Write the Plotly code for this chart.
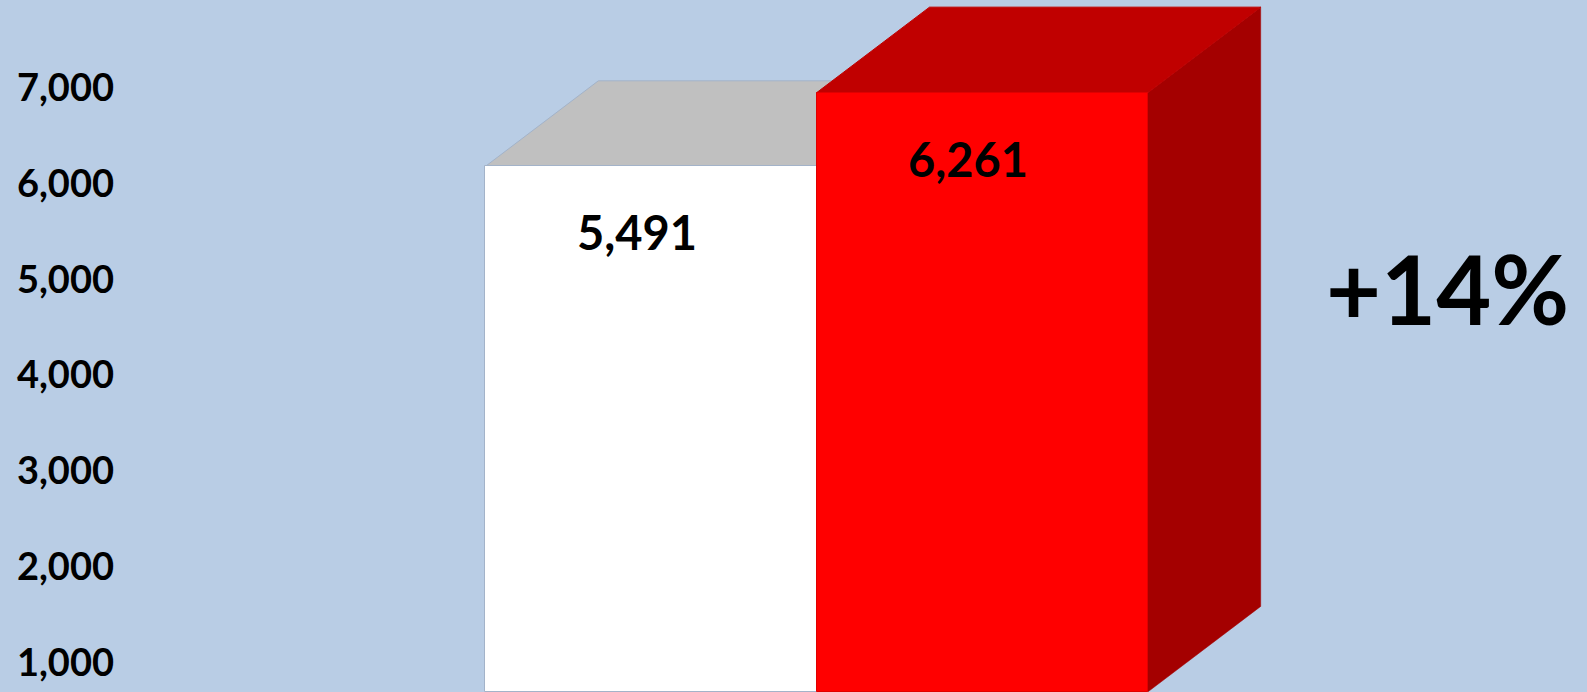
import plotly.graph_objects as go

# ---- data ----
categories = ["Previous", "Current"]
values = [5491, 6261]
front_colors = ["#FFFFFF", "#FF0000"]
top_colors = ["#C0C0C0", "#C00000"]
side_colors = ["#A6A6A6", "#A40000"]
edge_colors = ["#A3B3C9", "#E00000"]
tick_values = [1000, 2000, 3000, 4000, 5000, 6000, 7000]
tick_labels = ["1,000", "2,000", "3,000", "4,000", "5,000", "6,000", "7,000"]

# ---- geometry / style ----
W, H = 1587, 692
ML = 115
bar_axis_max = 7230          # value at the top edge of the plot (front plane)
x_range = [-0.5 + (ML - 485.3) / 331.2, -0.5 + (W - 485.3) / 331.2]
DEPTH_PX_X, DEPTH_PX_Y = 113, 85.6

px_per_x = (W - ML) / (x_range[1] - x_range[0])
px_per_y = H / bar_axis_max
ddx = DEPTH_PX_X / px_per_x
ddy = DEPTH_PX_Y / px_per_y

xs = list(range(len(values)))
BG = "#B9CDE5"
LABEL_FONT = "Lato, 'Open Sans', sans-serif"

fig = go.Figure()
fig.add_trace(go.Bar(
    x=xs, y=values, width=1.0,
    marker=dict(color=front_colors, line=dict(color=edge_colors, width=1)),
    hoverinfo="skip", showlegend=False,
))

shapes = []
for i, v in enumerate(values):
    L, R = xs[i] - 0.5, xs[i] + 0.5
    side = f"M {R},0 L {R},{v} L {R+ddx},{v+ddy} L {R+ddx},{ddy} Z"
    top = f"M {L},{v} L {L+ddx},{v+ddy} L {R+ddx},{v+ddy} L {R},{v} Z"
    shapes.append(dict(type="path", path=side, xref="x", yref="y", layer="below",
                       fillcolor=side_colors[i], line=dict(color=side_colors[i], width=0.5)))
    shapes.append(dict(type="path", path=top, xref="x", yref="y", layer="below",
                       fillcolor=top_colors[i],
                       line=dict(color=edge_colors[i] if i == 0 else top_colors[i], width=1)))

annotations = []
for i, v in enumerate(values):
    annotations.append(dict(
        x=xs[i], y=v, xref="x", yref="y", text=f"{v:,}", showarrow=False,
        yshift=-66, xshift=-14, xanchor="center", yanchor="middle",
        font=dict(family=LABEL_FONT, size=47, color="#000000", weight="bold"),
    ))
change = round((values[1] / values[0] - 1) * 100)
annotations.append(dict(
    x=1437 / W, y=1 - 288 / H, xref="paper", yref="paper",
    text=f"{'+' if change >= 0 else ''}{change}%", showarrow=False,
    xanchor="center", yanchor="middle",
    font=dict(family=LABEL_FONT, size=95, color="#000000", weight="bold"),
))

fig.update_layout(
    width=W, height=H,
    margin=dict(l=ML, r=0, t=0, b=0, pad=0),
    paper_bgcolor=BG, plot_bgcolor=BG,
    xaxis=dict(range=x_range, visible=False, showgrid=False, zeroline=False, fixedrange=True),
    yaxis=dict(range=[0, bar_axis_max], tickmode="array", tickvals=tick_values, ticktext=tick_labels,
               showgrid=False, zeroline=False, showline=False, ticks="",
               ticklabelshift=66,
               tickfont=dict(family=LABEL_FONT, size=38, color="#000000", weight="bold"),
               automargin=False),
    shapes=shapes, annotations=annotations, bargap=0,
)

fig.write_html("out.html", config={"displayModeBar": False})
with open("out.html", encoding="utf-8") as f:
    html = f.read()
html = html.replace("<head>", "<head><style>html,body{margin:0;padding:0;overflow:hidden;}</style>", 1)
with open("out.html", "w", encoding="utf-8") as f:
    f.write(html)
